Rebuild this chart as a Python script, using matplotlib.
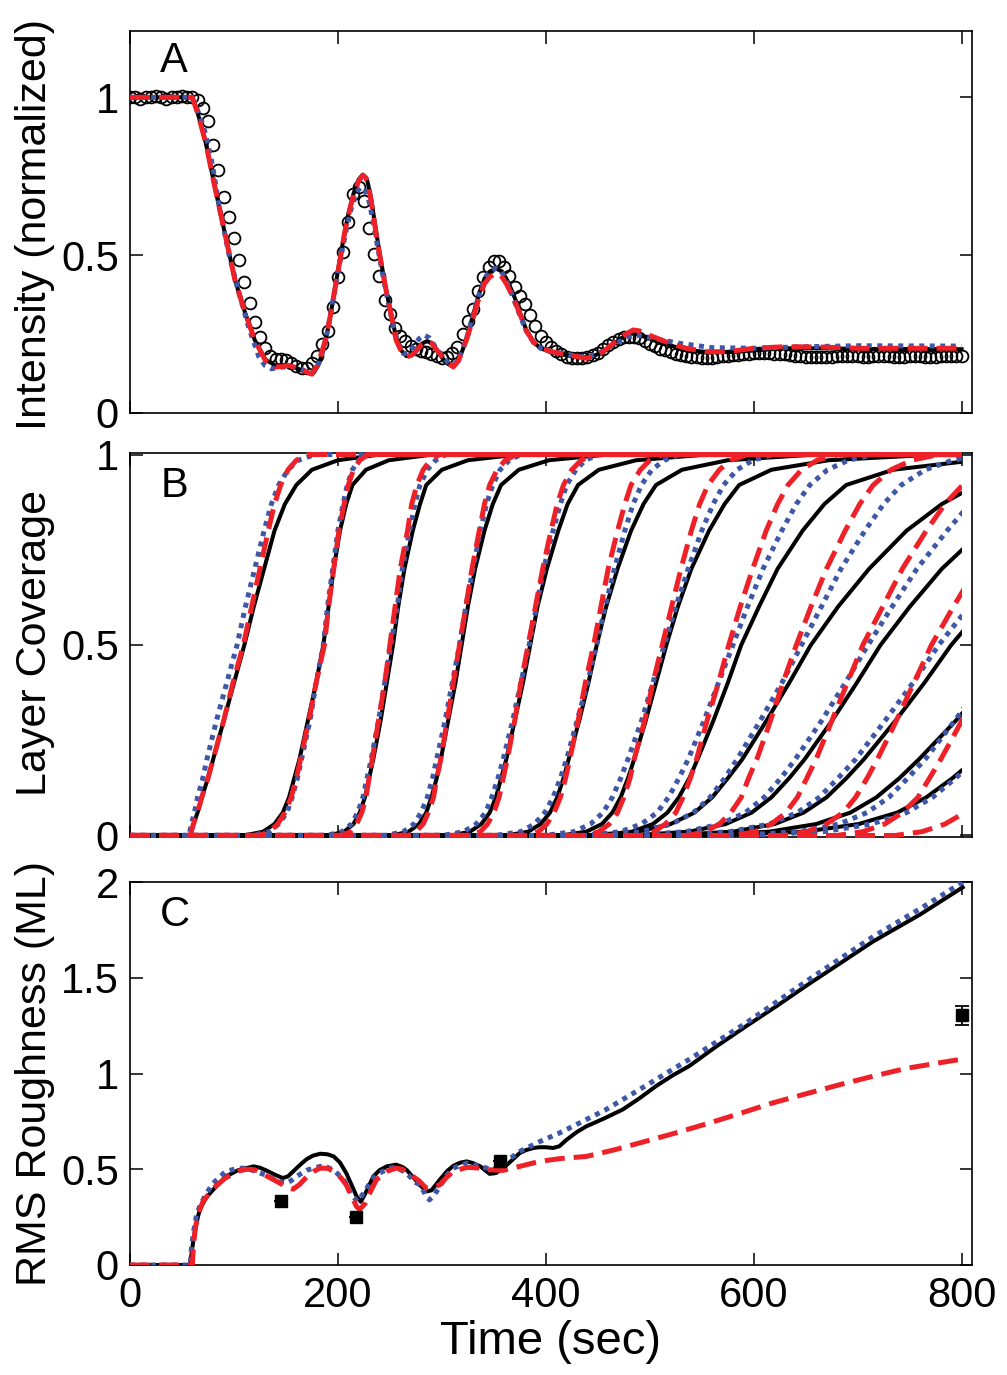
import numpy as np
import matplotlib
matplotlib.use("Agg")
import matplotlib.pyplot as plt
from matplotlib.patches import Rectangle

plt.rcParams['font.family'] = ['Liberation Sans', 'DejaVu Sans']

BLACK = '#000000'
RED = '#EE2129'
BLUE = '#3F57A7'

# ---------------- Panel A: intensity ----------------
A_DATA_T = np.arange(0, 801, 5)
A_DATA_I = [
    1.0, 1.0, 0.995, 1.0, 1.0, 1.005, 1.0, 0.995, 1.0, 1.0, 1.005, 1.0, 1.0,
    0.99, 0.965, 0.925, 0.85, 0.77, 0.685, 0.62, 0.555, 0.485, 0.415, 0.347,
    0.288, 0.24, 0.205, 0.18, 0.172, 0.172, 0.168, 0.158, 0.148, 0.142, 0.143,
    0.158, 0.18, 0.22, 0.26, 0.335, 0.43, 0.51, 0.605, 0.695, 0.715, 0.67,
    0.585, 0.505, 0.435, 0.357, 0.313, 0.27, 0.245, 0.229, 0.213, 0.203, 0.197,
    0.192, 0.187, 0.18, 0.174, 0.176, 0.19, 0.208, 0.25, 0.29, 0.33, 0.385,
    0.43, 0.463, 0.483, 0.482, 0.462, 0.435, 0.4, 0.372, 0.345, 0.31, 0.275,
    0.245, 0.225, 0.21, 0.196, 0.186, 0.178, 0.174, 0.173, 0.175, 0.178, 0.184,
    0.191, 0.203, 0.215, 0.226, 0.235, 0.24, 0.242, 0.242, 0.237, 0.229, 0.22,
    0.212, 0.204, 0.198, 0.193, 0.187, 0.183, 0.18, 0.178, 0.176, 0.174, 0.173,
    0.174, 0.177, 0.179, 0.181, 0.183, 0.185, 0.187, 0.188, 0.189, 0.189, 0.189,
    0.189, 0.188, 0.187, 0.186, 0.184, 0.181, 0.179, 0.178, 0.177, 0.177, 0.177,
    0.178, 0.178, 0.179, 0.179, 0.179, 0.179, 0.179, 0.178, 0.178, 0.179, 0.179,
    0.18, 0.179, 0.178, 0.178, 0.178, 0.179, 0.179, 0.179, 0.178, 0.178, 0.178,
    0.179, 0.179, 0.179, 0.179, 0.18]

A_BLACK_T = [0, 60, 66, 73, 82, 92, 101, 111, 120, 130, 140, 148, 155, 162, 170,
             176, 181, 185, 190, 195, 200, 205, 210, 215, 220, 224, 228, 232, 236,
             241, 246, 251, 256, 261, 266, 271, 276, 281, 286, 291, 296, 301, 306,
             311, 316, 320, 325, 330, 336, 341, 346, 352, 358, 363, 369, 375, 381,
             388, 395, 405, 415, 425, 437, 447, 456, 465, 473, 481, 488, 500, 515,
             535, 555, 580, 600, 630, 665, 700, 800]
A_BLACK_I = [1.0, 1.0, 0.94, 0.854, 0.71, 0.558, 0.421, 0.315, 0.231, 0.17, 0.15,
             0.152, 0.148, 0.14, 0.128, 0.125, 0.15, 0.19, 0.26, 0.35, 0.45, 0.545,
             0.63, 0.695, 0.74, 0.755, 0.74, 0.68, 0.59, 0.49, 0.395, 0.315, 0.24,
             0.198, 0.18, 0.185, 0.2, 0.22, 0.228, 0.218, 0.195, 0.172, 0.155, 0.148,
             0.168, 0.2, 0.25, 0.31, 0.38, 0.425, 0.448, 0.458, 0.448, 0.42, 0.375,
             0.32, 0.265, 0.225, 0.205, 0.193, 0.186, 0.18, 0.176, 0.182, 0.196,
             0.218, 0.238, 0.252, 0.25, 0.235, 0.218, 0.2, 0.193, 0.193, 0.198,
             0.205, 0.205, 0.203, 0.202]

A_RED_T = [0, 60, 66, 73, 82, 92, 101, 111, 120, 130, 140, 146, 152, 162, 170, 175,
           180, 183, 188, 192, 197, 202, 207, 212, 216, 220, 224, 227, 230, 234, 238,
           243, 247, 252, 256, 261, 266, 271, 276, 281, 286, 290, 295, 300, 305, 311,
           316, 320, 324, 330, 336, 341, 346, 352, 357, 362, 368, 375, 381, 388, 395,
           405, 415, 425, 439, 447, 455, 463, 471, 478, 484, 490, 503, 519, 535, 555,
           575, 600, 630, 665, 700, 800]
A_RED_I = [1.0, 1.0, 0.94, 0.854, 0.71, 0.558, 0.421, 0.315, 0.231, 0.168, 0.146,
           0.147, 0.151, 0.141, 0.13, 0.123, 0.15, 0.178, 0.23, 0.295, 0.39, 0.484,
           0.58, 0.653, 0.7, 0.735, 0.753, 0.745, 0.71, 0.63, 0.54, 0.45, 0.378, 0.3,
           0.231, 0.195, 0.178, 0.183, 0.199, 0.218, 0.228, 0.222, 0.2, 0.18, 0.16,
           0.146, 0.165, 0.2, 0.235, 0.3, 0.368, 0.41, 0.431, 0.442, 0.435, 0.41,
           0.37, 0.315, 0.262, 0.225, 0.205, 0.195, 0.188, 0.182, 0.173, 0.18, 0.194,
           0.215, 0.236, 0.252, 0.263, 0.26, 0.242, 0.221, 0.205, 0.194, 0.194,
           0.205, 0.21, 0.209, 0.205, 0.205]

A_BLUE_T = [0, 58, 62, 66, 70, 73, 79, 86, 95, 105, 114, 124, 130, 136, 145, 155,
            165, 172, 177, 182, 186, 190, 196, 202, 208, 213, 218, 222, 226, 230, 234,
            238, 243, 248, 253, 258, 263, 268, 273, 278, 283, 288, 293, 298, 305, 311,
            316, 320, 325, 330, 336, 342, 347, 352, 357, 362, 368, 375, 381, 388, 395,
            405, 416, 430, 440, 450, 460, 470, 480, 487, 495, 510, 530, 560, 600, 650,
            700, 800]
A_BLUE_I = [1.0, 1.0, 0.985, 0.95, 0.915, 0.88, 0.79, 0.653, 0.505, 0.378, 0.273,
            0.178, 0.15, 0.14, 0.145, 0.148, 0.138, 0.128, 0.13, 0.16, 0.2, 0.26,
            0.37, 0.48, 0.58, 0.65, 0.7, 0.715, 0.705, 0.67, 0.605, 0.53, 0.44, 0.355,
            0.28, 0.22, 0.188, 0.19, 0.21, 0.235, 0.247, 0.238, 0.213, 0.19, 0.163,
            0.15, 0.17, 0.2, 0.25, 0.31, 0.378, 0.43, 0.452, 0.458, 0.45, 0.42, 0.37,
            0.31, 0.262, 0.225, 0.205, 0.195, 0.189, 0.18, 0.178, 0.188, 0.205, 0.225,
            0.242, 0.247, 0.243, 0.232, 0.22, 0.207, 0.205, 0.21, 0.213, 0.212]

# ---------------- Panel B: layer coverage ----------------
# time (s) at which each layer (one row per layer) reaches these coverage levels
B_LEVELS = [0, 0.01, 0.03, 0.06, 0.1, 0.15, 0.2, 0.3, 0.4, 0.5, 0.6, 0.7, 0.8,
            0.87, 0.92, 0.96, 0.985, 1.0]

B_BLACK = [
    [58, 59, 61, 65, 69, 75, 80, 90, 100, 110, 119, 129, 139, 149, 160, 175, 200, 240],
    [110, 128, 139, 147, 153, 158, 163, 171, 179, 186, 191, 196, 202, 208, 214, 227, 249, 291],
    [191, 206, 215, 221, 226, 230, 234, 241, 247, 253, 258, 264, 272, 279, 285, 300, 325, 373],
    [252, 268, 278, 285, 290, 295, 299, 306, 313, 319, 325, 332, 341, 349, 357, 374, 403, 459],
    [309, 327, 338, 346, 352, 357, 362, 370, 378, 385, 392, 401, 412, 421, 431, 451, 487, 555],
    [362, 383, 395, 404, 411, 417, 422, 432, 441, 449, 458, 469, 482, 494, 506, 531, 575, 659],
    [415, 439, 454, 464, 472, 479, 485, 496, 506, 516, 527, 540, 557, 572, 586, 617, 672, 776],
    [450, 483, 503, 517, 528, 538, 546, 561, 575, 588, 605, 623, 647, 668, 689, 734, 813, 963],
    [437, 489, 520, 543, 560, 575, 589, 612, 634, 655, 681, 711, 747, 781, 814, 885, 1009, 1245],
    [481, 538, 573, 598, 617, 634, 649, 675, 699, 722, 750, 781, 820, 856, 891, 966, 1097, 1347],
    [514, 580, 620, 648, 670, 689, 706, 736, 764, 790, 821, 856, 899, 940, 979, 1063, 1210, 1490],
    [539, 615, 660, 693, 718, 740, 759, 794, 826, 856, 889, 927, 973, 1017, 1059, 1149, 1306, 1606],
    [563, 649, 701, 738, 766, 791, 813, 852, 888, 922, 957, 997, 1047, 1093, 1138, 1234, 1402, 1722],
]

B_RED = [
    [58, 59, 61, 65, 69, 75, 80, 90, 99, 109, 117, 125, 133, 139, 145, 152, 160, 172],
    [124, 134, 142, 149, 155, 160, 164, 172, 179, 187, 191, 196, 201, 206, 210, 215, 221, 229],
    [204, 212, 218, 223, 227, 230, 233, 239, 245, 250, 255, 260, 267, 271, 276, 282, 289, 298],
    [268, 275, 282, 287, 292, 295, 299, 305, 311, 317, 323, 329, 336, 341, 346, 353, 361, 372],
    [328, 337, 344, 350, 355, 359, 363, 370, 376, 383, 390, 397, 405, 411, 417, 425, 434, 446],
    [383, 393, 401, 408, 414, 419, 423, 431, 438, 446, 453, 460, 469, 476, 482, 491, 500, 513],
    [440, 451, 461, 469, 475, 481, 485, 495, 503, 512, 521, 530, 540, 548, 556, 567, 578, 594],
    [491, 504, 515, 525, 532, 539, 545, 555, 566, 576, 587, 599, 612, 623, 633, 646, 661, 681],
    [537, 553, 567, 578, 588, 595, 603, 616, 628, 641, 655, 670, 688, 702, 715, 732, 752, 778],
    [582, 601, 617, 631, 642, 651, 660, 675, 690, 705, 724, 743, 766, 784, 801, 824, 850, 884],
    [629, 651, 670, 686, 698, 709, 719, 737, 754, 771, 792, 814, 839, 859, 878, 904, 933, 971],
    [680, 705, 726, 743, 758, 769, 780, 800, 819, 838, 860, 883, 910, 931, 951, 978, 1008, 1048],
    [736, 762, 784, 803, 818, 830, 841, 863, 883, 903, 926, 950, 979, 1001, 1022, 1050, 1082, 1124],
]

B_BLUE = [
    [57, 57.5, 59, 62, 65, 70, 74, 83, 93, 103, 111, 120, 129, 136, 143, 152, 162, 178],
    [117, 134, 143, 151, 156, 161, 165, 173, 179, 186, 190, 195, 200, 205, 209, 214, 220, 228],
    [189, 204, 213, 219, 224, 228, 232, 239, 245, 251, 257, 262, 269, 274, 279, 286, 294, 304],
    [246, 263, 273, 280, 286, 291, 295, 303, 310, 317, 323, 330, 337, 343, 349, 356, 365, 376],
    [301, 321, 333, 342, 348, 354, 359, 368, 376, 384, 391, 398, 407, 414, 420, 429, 438, 451],
    [352, 376, 389, 399, 407, 414, 420, 430, 440, 449, 457, 466, 476, 484, 492, 502, 514, 529],
    [399, 427, 443, 455, 464, 472, 479, 492, 503, 514, 525, 537, 550, 561, 571, 584, 599, 619],
    [437, 472, 492, 507, 518, 528, 537, 552, 566, 580, 594, 609, 627, 641, 654, 671, 691, 717],
    [444, 492, 521, 542, 558, 572, 584, 606, 627, 646, 665, 684, 707, 725, 742, 765, 791, 825],
    [480, 535, 568, 592, 610, 626, 640, 665, 688, 710, 733, 757, 786, 808, 829, 857, 889, 931],
    [514, 577, 615, 642, 663, 681, 698, 726, 753, 778, 807, 837, 872, 899, 925, 960, 999, 1051],
    [581, 644, 682, 709, 730, 748, 765, 793, 820, 845, 876, 908, 946, 975, 1003, 1041, 1083, 1139],
    [590, 667, 713, 747, 772, 794, 814, 849, 881, 912, 945, 980, 1020, 1052, 1082, 1122, 1167, 1227],
]

# ---------------- Panel C: RMS roughness ----------------
C_BLACK_T = [0, 57.7, 59, 61, 64, 67, 73, 80, 92, 104, 112, 119, 125, 131, 140, 147,
             152, 157, 164, 170, 176, 183, 190, 196, 202, 208, 213, 218, 222, 227,
             234, 240, 247, 256, 262, 266, 272, 279, 285, 290, 298, 305, 311, 318,
             324, 330, 337, 346, 352, 359, 367, 375, 381, 388, 394, 400, 407, 413,
             420, 430, 439, 456, 474, 490, 506, 522, 538, 565, 593, 622, 651, 683,
             715, 760, 801]
C_BLACK_R = [0, 0, 0.05, 0.13, 0.22, 0.288, 0.35, 0.393, 0.462, 0.495, 0.506, 0.515,
             0.508, 0.494, 0.47, 0.454, 0.463, 0.489, 0.525, 0.553, 0.571, 0.581,
             0.578, 0.567, 0.535, 0.48, 0.42, 0.358, 0.33, 0.38, 0.462, 0.495, 0.515,
             0.524, 0.512, 0.497, 0.46, 0.419, 0.384, 0.39, 0.445, 0.49, 0.518, 0.535,
             0.541, 0.532, 0.515, 0.476, 0.48, 0.506, 0.545, 0.585, 0.6, 0.611, 0.615,
             0.615, 0.611, 0.62, 0.654, 0.695, 0.724, 0.765, 0.812, 0.87, 0.934, 0.99,
             1.039, 1.145, 1.248, 1.352, 1.46, 1.575, 1.69, 1.83, 1.972]

C_RED_T = [0, 60, 61, 63, 66, 70, 80, 92, 104, 112, 120, 131, 140, 150, 157, 163, 170,
           177, 183, 190, 196, 203, 208, 213, 218, 221, 226, 231, 237, 247, 256, 262,
           270, 278, 285, 292, 298, 305, 311, 324, 336, 346, 359, 375, 394, 413, 439,
           465, 490, 522, 554, 586, 618, 651, 683, 715, 747, 800]
C_RED_R = [0, 0, 0.1, 0.2, 0.27, 0.33, 0.4, 0.455, 0.49, 0.5, 0.497, 0.466, 0.44,
           0.41, 0.396, 0.42, 0.46, 0.49, 0.506, 0.505, 0.489, 0.455, 0.419, 0.36,
           0.305, 0.29, 0.32, 0.38, 0.445, 0.489, 0.506, 0.5, 0.471, 0.44, 0.401,
           0.405, 0.419, 0.46, 0.489, 0.51, 0.506, 0.497, 0.494, 0.515, 0.541, 0.555,
           0.567, 0.6, 0.637, 0.685, 0.736, 0.79, 0.846, 0.895, 0.942, 0.986, 1.027,
           1.075]

C_BLUE_T = [0, 58, 59, 61, 64, 67, 73, 80, 92, 104, 112, 125, 131, 141, 150, 155, 160,
            170, 183, 190, 196, 203, 208, 214, 219, 224, 234, 240, 250, 256, 266, 275,
            279, 285, 288, 292, 298, 305, 311, 324, 337, 349, 359, 375, 394, 413, 426,
            458, 490, 538, 593, 651, 715, 760, 801]
C_BLUE_R = [0, 0, 0.08, 0.17, 0.26, 0.305, 0.37, 0.427, 0.489, 0.505, 0.506, 0.48,
            0.47, 0.44, 0.427, 0.44, 0.462, 0.495, 0.515, 0.51, 0.495, 0.46, 0.427,
            0.36, 0.332, 0.37, 0.454, 0.48, 0.506, 0.51, 0.48, 0.43, 0.419, 0.36,
            0.34, 0.36, 0.41, 0.47, 0.506, 0.532, 0.515, 0.497, 0.53, 0.593, 0.644,
            0.689, 0.724, 0.812, 0.916, 1.074, 1.265, 1.483, 1.715, 1.86, 1.999]

C_MEAS_T = [145, 217, 356, 800]
C_MEAS_R = [0.335, 0.25, 0.545, 1.305]
C_MEAS_ERR = [0, 0, 0, 0.05]

# ---------------- styles ----------------
LW_BLACK = 2.9
LW_COL = 3.6
RED_DASH = (0, (4.0, 1.8))
BLUE_DOT = (0, (1.0, 1.1))

W, H = 1007, 1375
fig = plt.figure(figsize=(W / 100, H / 100), dpi=100)


def axes_px(top, bottom, left=130, right=972):
    return fig.add_axes([left / W, 1 - bottom / H, (right - left) / W, (bottom - top) / H])


axA = axes_px(31, 413)
axB = axes_px(453, 837)
axC = axes_px(882, 1265)

TICK_FS = 30

for ax in (axA, axB, axC):
    ax.set_xlim(0, 810)
    ax.set_xticks([0, 200, 400, 600, 800])
    ax.tick_params(direction='in', top=True, right=True, length=9, width=1.1,
                   labelsize=TICK_FS, pad=8)
    for s in ax.spines.values():
        s.set_linewidth(1.2)

# Panel A
axA.plot(A_DATA_T, A_DATA_I, linestyle='none', marker='o', ms=8.5, mfc='none',
         mec='black', mew=1.3, zorder=2)
axA.plot(A_BLACK_T, A_BLACK_I, color=BLACK, lw=LW_BLACK, zorder=3)
axA.plot(A_BLUE_T, A_BLUE_I, color=BLUE, lw=LW_COL, linestyle=BLUE_DOT, zorder=4)
axA.plot(A_RED_T, A_RED_I, color=RED, lw=LW_COL, linestyle=RED_DASH, zorder=5)
axA.set_ylim(0, 1.21)
axA.set_yticks([0, 0.5, 1])
axA.set_yticklabels(['0', '0.5', '1'])
axA.set_xticklabels([])

# Panel B
clip = Rectangle((0, -0.5), 800, 2.0, transform=axB.transData)
for curves, col, lw, ls, z in ((B_BLACK, BLACK, LW_BLACK, '-', 3),
                               (B_BLUE, BLUE, LW_COL, BLUE_DOT, 4),
                               (B_RED, RED, LW_COL, RED_DASH, 5)):
    for times in curves:
        t = [0] + list(times) + [2000]
        c = [0] + list(B_LEVELS) + [1]
        ln, = axB.plot(t, c, color=col, lw=lw, linestyle=ls, zorder=z)
        ln.set_clip_path(clip)
axB.set_ylim(-0.004, 1.004)
axB.set_yticks([0, 0.5, 1])
axB.set_yticklabels(['0', '0.5', '1'])
axB.set_xticklabels([])

# Panel C
axC.plot(C_BLACK_T, C_BLACK_R, color=BLACK, lw=LW_BLACK, zorder=3)
axC.plot(C_BLUE_T, C_BLUE_R, color=BLUE, lw=LW_COL, linestyle=BLUE_DOT, zorder=4)
axC.plot(C_RED_T, C_RED_R, color=RED, lw=LW_COL, linestyle=RED_DASH, zorder=5)
axC.errorbar(C_MEAS_T, C_MEAS_R, yerr=C_MEAS_ERR, fmt='s', color='black', ms=9,
             capsize=5, elinewidth=1.3, capthick=1.3, zorder=6)
axC.set_ylim(0, 2)
axC.set_yticks([0, 0.5, 1, 1.5, 2])
axC.set_yticklabels(['0', '0.5', '1', '1.5', '2'])
axC.set_xticklabels(['0', '200', '400', '600', '800'])

# panel letters
for ax, letter, y in ((axA, 'A', 0.975), (axB, 'B', 0.965), (axC, 'C', 0.965)):
    ax.text(0.036, y, letter, transform=ax.transAxes, fontsize=30, va='top', ha='left')

# axis labels
LABEL_FS = 31
fig.text(35 / W, 1 - 225 / H, 'Intensity (normalized)', rotation=90, ha='center',
         va='center', fontsize=LABEL_FS)
fig.text(35 / W, 1 - 643 / H, 'Layer Coverage', rotation=90, ha='center',
         va='center', fontsize=LABEL_FS)
fig.text(35 / W, 1 - 1073 / H, 'RMS Roughness (ML)', rotation=90, ha='center',
         va='center', fontsize=LABEL_FS)
fig.text(551 / W, 1 - 1342 / H, 'Time (sec)', ha='center', va='center', fontsize=34)

fig.savefig('out.png', dpi=100)
